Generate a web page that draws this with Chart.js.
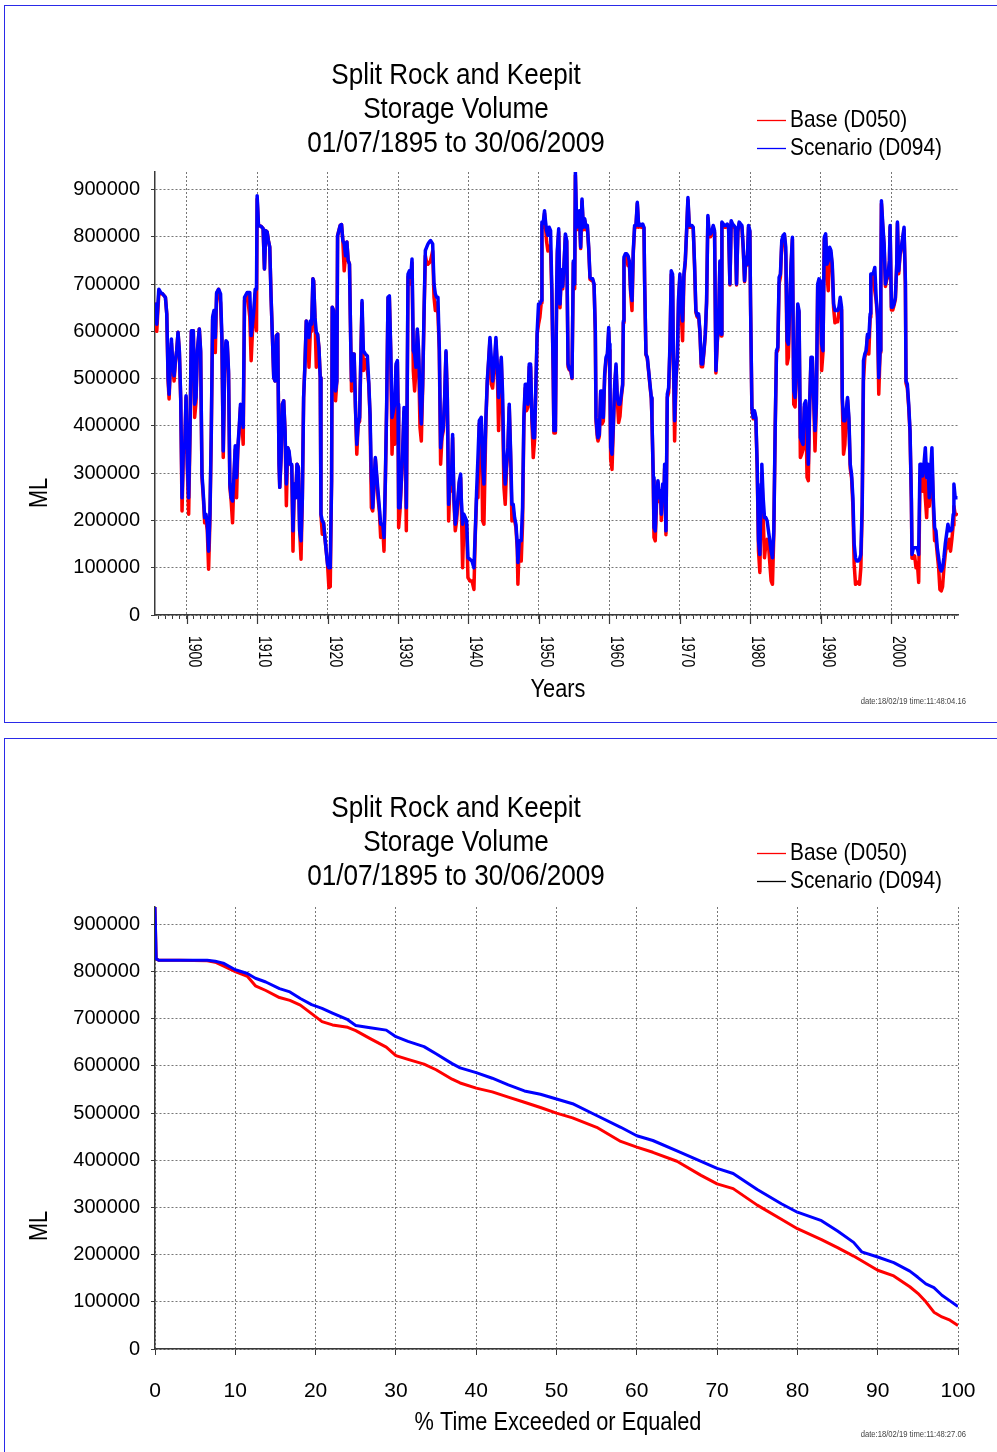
<!DOCTYPE html>
<html>
<head>
<meta charset="utf-8">
<script src="https://cdn.jsdelivr.net/npm/chart.js@4.4.0/dist/chart.umd.min.js"></script>
<style>
html, body { margin: 0; padding: 0; background: #fff; }
body { width: 997px; height: 1452px; position: relative; overflow: hidden; }
.panel { position: absolute; left: 4px; width: 1010px; border: 1.5px solid #2a2ae8; box-sizing: border-box; }
#p1 { top: 5px; height: 718px; }
#p2 { top: 738px; height: 740px; }
canvas { position: absolute; left: 0; }
#c1 { top: 0; }
#c2 { top: 733px; }
</style>
</head>
<body>
<div class="panel" id="p1"></div>
<div class="panel" id="p2"></div>
<canvas id="c1" width="997" height="733"></canvas>
<canvas id="c2" width="997" height="719"></canvas>
<script>
// === TEXT ===
const titleLines = ['Split Rock and Keepit', 'Storage Volume', '01/07/1895 to 30/06/2009'];
const seriesNames = ['Base (D050)', 'Scenario (D094)'];
const yAxisTitle = 'ML';
const timeAxisTitle = 'Years';
const pctAxisTitle = '% Time Exceeded or Equaled';
const stampTop = 'date:18/02/19 time:11:48:04.16';
const stampBottom = 'date:18/02/19 time:11:48:27.06';

// === TICKS ===
const yTickValues = [0, 100000, 200000, 300000, 400000, 500000, 600000, 700000, 800000, 900000];
const yTickLabels = ['0', '100000', '200000', '300000', '400000', '500000', '600000', '700000', '800000', '900000'];
const decadeTicks = [1900, 1910, 1920, 1930, 1940, 1950, 1960, 1970, 1980, 1990, 2000];
const decadeLabels = ['1900', '1910', '1920', '1930', '1940', '1950', '1960', '1970', '1980', '1990', '2000'];
const pctTicks = [0, 10, 20, 30, 40, 50, 60, 70, 80, 90, 100];
const pctLabels = ['0', '10', '20', '30', '40', '50', '60', '70', '80', '90', '100'];

// === TIME SERIES (ML) ===
const years = [
  1895.57, 1895.75, 1896.04, 1896.32, 1896.6, 1896.98, 1897.17, 1897.36, 1897.5, 1897.64, 1897.83, 1898.02, 1898.21, 1898.4, 1898.58, 1898.77, 1898.96,
  1899.15, 1899.34, 1899.53, 1899.72, 1899.91, 1900.09, 1900.28, 1900.47, 1900.66, 1900.94, 1901.13, 1901.32, 1901.51, 1901.79, 1901.98,
  1902.17, 1902.36, 1902.55, 1902.74, 1902.92, 1903.11, 1903.3, 1903.49, 1903.68, 1903.87, 1904.06, 1904.25, 1904.53, 1904.81,
  1905.0, 1905.19, 1905.38, 1905.57, 1905.75, 1905.94, 1906.13, 1906.32, 1906.51, 1906.7, 1906.89, 1907.08, 1907.26, 1907.45, 1907.64, 1907.83,
  1908.02, 1908.21, 1908.58, 1908.96, 1909.15, 1909.34, 1909.53, 1909.72, 1909.91, 1910.0, 1910.19, 1910.57, 1910.85, 1911.04, 1911.23, 1911.42,
  1911.6, 1911.79, 1911.98, 1912.17, 1912.36, 1912.55, 1912.74, 1912.92, 1913.11, 1913.21, 1913.4, 1913.58, 1913.77, 1913.96, 1914.15, 1914.34,
  1914.53, 1914.72, 1914.91, 1915.09, 1915.28, 1915.47, 1915.66, 1915.85, 1916.04, 1916.23, 1916.42, 1916.6, 1916.79, 1916.98, 1917.17, 1917.36,
  1917.55, 1917.74, 1917.92, 1918.02, 1918.21, 1918.4, 1918.58, 1918.77, 1918.96, 1919.06, 1919.25, 1919.43, 1919.62, 1919.81, 1920.0, 1920.19,
  1920.38, 1920.57, 1920.66, 1920.85, 1920.94, 1921.13, 1921.32, 1921.42, 1921.6, 1921.79, 1921.98, 1922.17, 1922.36, 1922.55, 1922.74, 1922.92,
  1923.11, 1923.3, 1923.4, 1923.58, 1923.77, 1923.96, 1924.15, 1924.34, 1924.55, 1924.7,
  1924.89, 1925.08, 1925.37, 1925.65, 1925.84, 1926.03, 1926.22, 1926.41, 1926.78, 1926.97, 1927.16, 1927.35, 1927.54, 1927.83, 1928.01, 1928.2,
  1928.39, 1928.58, 1928.77, 1928.96, 1929.15, 1929.34, 1929.53, 1929.72, 1929.91, 1930.0, 1930.09, 1930.28, 1930.47, 1930.66, 1930.85, 1931.04,
  1931.18, 1931.42, 1931.61, 1931.8, 1931.99, 1932.17, 1932.36, 1932.55, 1932.74, 1932.93, 1933.12, 1933.31, 1933.5, 1933.69, 1933.88, 1934.07,
  1934.26, 1934.44, 1934.63, 1934.92, 1935.11, 1935.3, 1935.48, 1935.67, 1935.86, 1936.05, 1936.24, 1936.43, 1936.62, 1936.81, 1937.0, 1937.19,
  1937.38, 1937.57, 1937.75, 1937.94, 1938.13, 1938.32, 1938.51, 1938.7, 1938.89, 1938.98, 1939.17, 1939.36, 1939.55, 1939.74, 1939.93, 1940.21,
  1940.5, 1940.78, 1940.97, 1941.16, 1941.35, 1941.54, 1941.82, 1942.01, 1942.2, 1942.48, 1942.67, 1942.86, 1943.05, 1943.24, 1943.43, 1943.71,
  1943.9, 1944.09, 1944.28, 1944.47, 1944.66, 1944.85, 1945.04, 1945.22, 1945.41, 1945.6, 1945.79, 1945.98, 1946.17, 1946.36, 1946.55, 1946.74,
  1946.93, 1947.02, 1947.21, 1947.49, 1947.68, 1947.87, 1948.06, 1948.25, 1948.44, 1948.63, 1948.82, 1949.01, 1949.2, 1949.39, 1949.57, 1949.76,
  1949.95, 1950.14, 1950.33, 1950.43, 1950.61, 1950.8, 1950.9, 1951.09, 1951.28, 1951.47, 1951.66, 1951.84, 1952.03, 1952.13,
  1952.34, 1952.53, 1952.62, 1952.81, 1953.0, 1953.19, 1953.38, 1953.57, 1953.76, 1953.95, 1954.14, 1954.33, 1954.52, 1954.7, 1954.89, 1955.08,
  1955.18, 1955.37, 1955.56, 1955.74, 1955.93, 1956.12, 1956.31, 1956.5, 1956.69, 1956.88, 1957.07, 1957.26, 1957.45, 1957.64, 1957.83, 1958.01,
  1958.11, 1958.3, 1958.39, 1958.58, 1958.77, 1958.96, 1959.15, 1959.34, 1959.53, 1959.72, 1959.91, 1960.0, 1960.09, 1960.19, 1960.38, 1960.57,
  1960.76, 1960.95, 1961.13, 1961.32, 1961.51, 1961.7, 1961.89, 1961.99, 1962.08, 1962.27, 1962.46, 1962.65, 1962.84, 1963.03, 1963.22, 1963.4,
  1963.59, 1963.78, 1963.97, 1964.16, 1964.35, 1964.54, 1964.73, 1964.92, 1965.01, 1965.2, 1965.39, 1965.58, 1965.77, 1965.96, 1966.05, 1966.24,
  1966.34, 1966.52, 1966.71, 1966.9, 1967.09, 1967.28, 1967.38, 1967.57, 1967.75, 1967.85, 1968.04, 1968.23, 1968.42, 1968.61, 1968.79, 1968.98,
  1969.08, 1969.27, 1969.46, 1969.65, 1969.83, 1970.02, 1970.21, 1970.4, 1970.59, 1970.78, 1970.97, 1971.16, 1971.35, 1971.54, 1971.73, 1971.91,
  1972.1, 1972.29, 1972.48, 1972.67, 1972.86, 1973.05, 1973.24, 1973.43, 1973.62, 1973.81, 1973.99, 1974.18, 1974.37, 1974.56, 1974.75, 1974.94,
  1975.13, 1975.32, 1975.51, 1975.7, 1975.89, 1975.98, 1976.17, 1976.36, 1976.55, 1976.74, 1976.93, 1977.12, 1977.3, 1977.49, 1977.68, 1977.87,
  1978.06, 1978.25, 1978.44, 1978.63, 1978.82, 1979.01, 1979.2, 1979.39, 1979.57, 1979.76, 1979.95, 1980.05, 1980.24, 1980.43, 1980.61, 1980.8,
  1980.99, 1981.18, 1981.37, 1981.56, 1981.65,
  1981.84, 1982.03, 1982.22, 1982.41, 1982.59, 1982.78, 1982.97, 1983.16, 1983.35, 1983.54, 1983.73, 1983.92, 1984.1, 1984.29, 1984.48, 1984.67,
  1984.86, 1985.05, 1985.24, 1985.42, 1985.61, 1985.8, 1985.99, 1986.18, 1986.37, 1986.56, 1986.75, 1986.93, 1987.12, 1987.31, 1987.5, 1987.69,
  1987.88, 1988.07, 1988.25, 1988.44, 1988.63, 1988.82, 1989.01, 1989.2, 1989.39, 1989.58, 1989.76, 1989.95, 1990.14, 1990.33, 1990.52, 1990.71,
  1990.9, 1991.08, 1991.27, 1991.46, 1991.65, 1991.84, 1992.03, 1992.22, 1992.41, 1992.59, 1992.78, 1992.97, 1993.07, 1993.25, 1993.44, 1993.63,
  1993.82, 1994.01, 1994.2, 1994.39, 1994.58, 1994.76, 1994.95, 1995.14, 1995.33, 1995.52, 1995.71, 1995.9, 1996.08, 1996.27, 1996.46, 1996.65,
  1996.84, 1997.03, 1997.12, 1997.31, 1997.5, 1997.69, 1997.88, 1998.07, 1998.25, 1998.44, 1998.54, 1998.63, 1998.82, 1999.01, 1999.2, 1999.39,
  1999.58, 1999.76, 1999.86, 2000.05, 2000.24, 2000.42, 2000.61, 2000.8, 2000.9, 2001.08, 2001.27, 2001.46, 2001.65, 2001.84, 2002.03, 2002.12,
  2002.31, 2002.5, 2002.69, 2002.88, 2002.97, 2003.16, 2003.35, 2003.54, 2003.73, 2003.92, 2004.1, 2004.29, 2004.48, 2004.67, 2004.86, 2005.05,
  2005.24, 2005.42, 2005.61, 2005.8, 2005.99, 2006.18, 2006.37, 2006.56, 2006.75, 2006.93, 2007.12, 2007.31, 2007.5, 2007.69, 2007.88, 2008.07,
  2008.25, 2008.44, 2008.63, 2008.82, 2008.92, 2009.1, 2009.29, 2009.43
];

const scenario = [
  661000, 615000, 689000, 682000, 679000, 672000, 637000, 502000, 467000, 517000, 584000, 531000, 506000, 538000, 559000, 598000, 559000,
  460000, 248000, 354000, 354000, 464000, 319000, 248000, 390000, 601000, 601000, 446000, 460000, 559000, 605000, 559000,
  298000, 255000, 206000, 213000, 192000, 135000, 213000, 390000, 630000, 644000, 587000, 682000, 689000, 679000,
  587000, 347000, 517000, 580000, 577000, 517000, 277000, 248000, 241000, 291000, 358000, 291000, 354000, 397000, 446000, 418000,
  397000, 672000, 682000, 682000, 591000, 615000, 644000, 689000, 689000, 887000, 824000, 822000, 817000, 732000, 813000, 810000,
  792000, 778000, 672000, 587000, 502000, 495000, 591000, 594000, 319000, 270000, 333000, 446000, 453000, 390000, 277000, 354000,
  347000, 319000, 319000, 178000, 277000, 248000, 319000, 312000, 178000, 157000, 248000, 460000, 531000, 622000, 601000, 587000,
  622000, 615000, 711000, 707000, 630000, 598000, 594000, 566000, 502000, 213000, 199000, 195000, 164000, 135000, 107000, 100000,
  100000, 284000, 651000, 644000, 587000, 474000, 495000, 802000, 813000, 824000, 826000, 792000, 785000, 760000, 789000, 750000,
  742000, 566000, 495000, 552000, 552000, 439000, 361000, 404000, 418000, 531000,
  665000, 559000, 552000, 548000, 495000, 425000, 291000, 227000, 333000, 298000, 262000, 227000, 192000, 192000, 164000, 284000,
  446000, 672000, 675000, 566000, 418000, 432000, 446000, 531000, 538000, 446000, 227000, 227000, 284000, 347000, 439000, 390000,
  227000, 721000, 728000, 714000, 753000, 559000, 552000, 524000, 605000, 559000, 460000, 404000, 488000, 637000, 771000, 778000,
  785000, 789000, 792000, 785000, 700000, 679000, 672000, 672000, 566000, 354000, 382000, 397000, 460000, 559000, 460000, 234000,
  284000, 277000, 382000, 248000, 192000, 213000, 248000, 284000, 298000, 248000, 192000, 213000, 206000, 199000, 121000, 118000,
  114000, 100000, 178000, 262000, 333000, 411000, 418000, 319000, 277000, 418000, 495000, 538000, 587000, 545000, 495000, 538000,
  587000, 531000, 460000, 495000, 545000, 467000, 319000, 277000, 319000, 354000, 446000, 347000, 234000, 234000, 206000, 192000,
  150000, 111000, 157000, 157000, 227000, 418000, 488000, 488000, 446000, 531000, 531000, 418000, 375000, 375000, 488000, 601000,
  658000, 658000, 665000, 831000, 828000, 855000, 838000, 813000, 803000, 820000, 813000, 686000, 517000, 390000,
  390000, 700000, 771000, 817000, 658000, 730000, 695000, 742000, 806000, 792000, 531000, 520000, 520000, 502000, 749000, 700000,
  937000, 820000, 824000, 855000, 778000, 880000, 820000, 838000, 820000, 824000, 778000, 714000, 711000, 711000, 700000, 601000,
  418000, 382000, 375000, 382000, 474000, 474000, 418000, 510000, 545000, 552000, 608000, 573000, 495000, 354000, 340000, 404000,
  488000, 531000, 460000, 446000, 446000, 467000, 488000, 622000, 757000, 764000, 764000, 760000, 749000, 686000, 665000, 771000,
  824000, 824000, 873000, 824000, 827000, 824000, 827000, 820000, 707000, 552000, 545000, 517000, 488000, 460000, 418000, 291000,
  185000, 178000, 248000, 284000, 248000, 262000, 213000, 277000, 248000, 319000, 178000, 467000, 481000, 573000, 728000, 721000,
  559000, 411000, 502000, 545000, 672000, 721000, 651000, 622000, 721000, 749000, 813000, 883000, 824000, 824000, 824000, 820000,
  742000, 644000, 633000, 637000, 601000, 531000, 531000, 559000, 594000, 665000, 845000, 806000, 806000, 813000, 824000, 813000,
  517000, 580000, 622000, 749000, 594000, 831000, 827000, 824000, 824000, 827000, 820000, 700000, 834000, 827000, 824000, 820000,
  700000, 813000, 831000, 827000, 824000, 778000, 707000, 757000, 742000, 824000, 813000, 658000, 439000, 418000, 432000, 418000,
  319000, 157000, 128000, 277000, 319000,
  248000, 206000, 206000, 199000, 178000, 157000, 135000, 121000, 178000, 390000, 559000, 566000, 714000, 721000, 792000, 803000,
  806000, 778000, 580000, 573000, 658000, 742000, 799000, 474000, 460000, 510000, 658000, 644000, 375000, 368000, 361000, 446000,
  453000, 404000, 319000, 446000, 545000, 545000, 460000, 390000, 446000, 700000, 711000, 707000, 573000, 559000, 799000, 806000,
  742000, 749000, 778000, 771000, 742000, 658000, 644000, 644000, 644000, 651000, 672000, 651000, 460000, 411000, 411000, 432000,
  460000, 418000, 319000, 298000, 248000, 150000, 121000, 114000, 114000, 118000, 128000, 234000, 538000, 552000, 559000, 594000,
  587000, 637000, 721000, 721000, 724000, 735000, 672000, 637000, 502000, 559000, 686000, 876000, 827000, 785000, 700000, 714000,
  721000, 749000, 824000, 651000, 651000, 658000, 672000, 742000, 831000, 728000, 764000, 778000, 799000, 820000, 707000, 495000,
  488000, 446000, 390000, 248000, 128000, 142000, 142000, 142000, 142000, 128000, 319000, 319000, 294000, 319000, 354000, 291000,
  319000, 248000, 305000, 354000, 248000, 185000, 178000, 142000, 121000, 100000, 93000, 100000, 121000, 150000, 171000, 192000,
  178000, 178000, 181000, 213000, 277000, 248000, 248000, 248000
];

const base = [
  661000, 600000, 680000, 680000, 679000, 672000, 637000, 495000, 457000, 510000, 575000, 525000, 495000, 535000, 559000, 598000, 555000,
  455000, 220000, 340000, 354000, 460000, 310000, 213000, 380000, 600000, 601000, 418000, 450000, 555000, 605000, 555000,
  290000, 248000, 195000, 200000, 180000, 97000, 200000, 380000, 625000, 640000, 555000, 680000, 689000, 660000,
  580000, 333000, 510000, 575000, 575000, 510000, 270000, 240000, 195000, 285000, 350000, 248000, 350000, 390000, 440000, 410000,
  361000, 665000, 680000, 630000, 538000, 600000, 630000, 680000, 601000, 880000, 824000, 822000, 817000, 732000, 813000, 810000,
  792000, 778000, 672000, 587000, 502000, 495000, 591000, 594000, 319000, 270000, 333000, 446000, 453000, 390000, 231000, 354000,
  340000, 319000, 315000, 135000, 277000, 248000, 319000, 312000, 178000, 118000, 248000, 460000, 531000, 622000, 601000, 524000,
  600000, 600000, 711000, 707000, 630000, 524000, 594000, 566000, 502000, 213000, 171000, 195000, 164000, 135000, 107000, 58000,
  60000, 284000, 651000, 644000, 587000, 453000, 495000, 802000, 813000, 824000, 826000, 792000, 728000, 760000, 789000, 750000,
  742000, 566000, 474000, 552000, 552000, 439000, 340000, 404000, 410000, 525000,
  660000, 517000, 540000, 517000, 490000, 420000, 227000, 220000, 330000, 290000, 248000, 220000, 164000, 185000, 135000, 280000,
  440000, 670000, 672000, 560000, 340000, 425000, 361000, 525000, 535000, 440000, 185000, 220000, 280000, 340000, 430000, 350000,
  178000, 715000, 720000, 700000, 745000, 517000, 474000, 520000, 600000, 540000, 397000, 368000, 480000, 630000, 760000, 745000,
  742000, 745000, 750000, 770000, 672000, 644000, 660000, 637000, 560000, 319000, 375000, 390000, 455000, 555000, 455000, 199000,
  280000, 262000, 375000, 240000, 178000, 200000, 240000, 280000, 290000, 240000, 100000, 200000, 200000, 190000, 79000, 72000,
  72000, 54000, 170000, 248000, 248000, 405000, 410000, 199000, 192000, 410000, 490000, 535000, 580000, 488000, 480000, 530000,
  580000, 520000, 390000, 480000, 540000, 432000, 270000, 234000, 310000, 350000, 440000, 340000, 199000, 220000, 200000, 185000,
  140000, 65000, 150000, 114000, 192000, 410000, 480000, 432000, 440000, 525000, 525000, 410000, 333000, 370000, 480000, 595000,
  615000, 630000, 660000, 825000, 820000, 850000, 830000, 790000, 770000, 780000, 770000, 680000, 510000, 385000,
  385000, 690000, 765000, 810000, 650000, 725000, 690000, 740000, 800000, 790000, 525000, 518000, 518000, 500000, 745000, 690000,
  930000, 815000, 820000, 850000, 775000, 875000, 815000, 835000, 815000, 820000, 775000, 710000, 708000, 708000, 698000, 598000,
  410000, 375000, 368000, 378000, 470000, 404000, 410000, 505000, 540000, 545000, 600000, 560000, 480000, 330000, 308000, 395000,
  480000, 525000, 455000, 407000, 420000, 460000, 485000, 618000, 750000, 760000, 755000, 739000, 745000, 680000, 644000, 765000,
  820000, 820000, 870000, 820000, 824000, 820000, 824000, 818000, 705000, 550000, 543000, 515000, 485000, 458000, 415000, 285000,
  164000, 157000, 240000, 280000, 240000, 255000, 200000, 270000, 240000, 310000, 170000, 460000, 470000, 565000, 720000, 715000,
  550000, 368000, 495000, 540000, 665000, 715000, 637000, 580000, 715000, 745000, 810000, 878000, 820000, 820000, 820000, 818000,
  738000, 640000, 630000, 633000, 598000, 525000, 525000, 555000, 590000, 660000, 840000, 800000, 800000, 808000, 820000, 808000,
  512000, 575000, 618000, 745000, 590000, 828000, 824000, 820000, 820000, 824000, 818000, 698000, 830000, 824000, 820000, 818000,
  698000, 810000, 828000, 824000, 820000, 775000, 705000, 755000, 740000, 820000, 810000, 655000, 435000, 415000, 428000, 415000,
  310000, 135000, 90000, 260000, 300000,
  210000, 121000, 150000, 160000, 150000, 110000, 72000, 65000, 170000, 385000, 555000, 560000, 700000, 715000, 785000, 800000,
  803000, 760000, 531000, 545000, 650000, 738000, 795000, 446000, 440000, 505000, 650000, 640000, 333000, 340000, 350000, 440000,
  448000, 291000, 284000, 440000, 540000, 540000, 455000, 347000, 440000, 695000, 705000, 700000, 517000, 555000, 795000, 800000,
  720000, 686000, 770000, 765000, 735000, 650000, 618000, 620000, 620000, 640000, 660000, 645000, 455000, 340000, 360000, 425000,
  455000, 410000, 310000, 290000, 230000, 107000, 65000, 68000, 70000, 65000, 100000, 225000, 495000, 545000, 555000, 590000,
  552000, 630000, 715000, 715000, 718000, 686000, 665000, 630000, 467000, 555000, 680000, 870000, 820000, 780000, 695000, 710000,
  715000, 745000, 820000, 645000, 645000, 655000, 668000, 738000, 828000, 722000, 760000, 775000, 795000, 815000, 700000, 490000,
  480000, 440000, 385000, 240000, 120000, 120000, 125000, 100000, 110000, 69000, 290000, 300000, 262000, 300000, 248000, 206000,
  290000, 230000, 280000, 330000, 230000, 157000, 160000, 128000, 100000, 54000, 51000, 60000, 100000, 128000, 150000, 142000,
  160000, 135000, 160000, 190000, 230000, 213000, 213000, 210000
];

// === DURATION CURVE (% time exceeded, ML) ===
const pctExceeded = [
  0, 0.15, 0.5, 3, 6.5, 7.5, 8.5, 10, 11.5, 12.5, 13.8, 15.5, 16.8, 18.1, 19.5, 20.8, 22.1, 24, 25, 26.8, 28.8, 30,
  31.5, 33.5, 35, 37, 38, 40, 42, 44, 46, 48, 50, 52, 55, 58, 60, 62, 65, 68, 70, 72, 75, 78, 80, 83, 85, 87, 88,
  90, 92, 94, 95, 96, 97, 98, 99, 100
];
const scenarioExceed = [
  937000, 827000, 824000, 824000, 824000, 822000, 818000, 804000, 796000, 786000, 778000, 764000, 757000, 743000, 730000, 722000,
  712000, 698000, 686000, 681000, 676000, 662000, 652000, 641000, 626000, 605000, 596000, 586000, 574000, 560000, 547000, 540000,
  530000, 520000, 495000, 470000, 452000, 442000, 420000, 398000, 383000, 372000, 338000, 308000, 290000, 272000, 250000, 226000,
  206000, 195000, 183000, 165000, 152000, 138000, 130000, 114000, 102000, 90000
];
const baseExceed = [
  937000, 827000, 824000, 824000, 823000, 820000, 812000, 800000, 790000, 770000, 760000, 745000, 739000, 729000, 711000, 694000,
  687000, 682000, 675000, 658000, 640000, 622000, 614000, 604000, 592000, 572000, 564000, 553000, 545000, 534000, 523000, 512000,
  500000, 490000, 470000, 440000, 428000, 417000, 398000, 368000, 350000, 340000, 305000, 275000, 255000, 232000, 215000, 197000,
  187000, 167000, 155000, 132000, 118000, 100000, 78000, 68000, 61000, 50000
];

// === STYLE ===
const FONT = '"Liberation Sans", Arial, sans-serif';
const RED = '#ff0000';
const BLUE = '#0000ff';
const GRID = 'rgba(95,95,95,0.85)';
const AXIS = '#3a3a3a';

// narrow-looking text: squeeze a regular face along its baseline
function narrowText(ctx, text, x, y, size, squeeze, align, angle) {
    ctx.save();
    ctx.translate(x, y);
    if (angle) ctx.rotate(angle);
    ctx.scale(squeeze, 1);
    ctx.font = size + 'px ' + FONT;
    ctx.textAlign = align;
    ctx.textBaseline = 'middle';
    ctx.fillText(text, 0, 0);
    ctx.restore();
}

// === DECORATION PLUGIN (title, legend, axis titles, stamp) ===
function decor(opts) {
    return {
        id: opts.id,
        afterDraw(chart) {
            const ctx = chart.ctx;
            ctx.save();
            ctx.fillStyle = '#000';

            // Title
            titleLines.forEach((t, i) => narrowText(ctx, t, 456, 76 + i * 34, 30, 0.87, 'center'));

            // Legend
            seriesNames.forEach((name, i) => {
                const y = 120 + i * 28;
                ctx.strokeStyle = opts.legendColors[i];
                ctx.lineWidth = 1.3;
                ctx.beginPath();
                ctx.moveTo(757, y + 0.5);
                ctx.lineTo(786, y + 0.5);
                ctx.stroke();
                narrowText(ctx, name, 790, y, 24, 0.87, 'left');
            });

            // Axis titles
            narrowText(ctx, yAxisTitle, 40, 493, 25, 0.87, 'center', -Math.PI / 2);
            narrowText(ctx, opts.xTitle, 558, 690, 25, 0.87, 'center');

            // Date stamp
            ctx.fillStyle = '#444';
            narrowText(ctx, opts.stamp, 966, 702, 9, 0.85, 'right');
            ctx.fillStyle = '#000';

            // Rotated decade labels + long decade ticks (time chart only)
            if (opts.decades) {
                const xs = chart.scales.x;
                const bottom = chart.chartArea.bottom;
                ctx.strokeStyle = AXIS;
                ctx.lineWidth = 1.2;
                decadeTicks.forEach((yr, i) => {
                    const px = Math.round(xs.getPixelForValue(yr)) + 0.5;
                    ctx.beginPath();
                    ctx.moveTo(px, bottom);
                    ctx.lineTo(px, bottom + 9);
                    ctx.stroke();
                    narrowText(ctx, decadeLabels[i], px + 6, bottom + 21, 18, 0.78, 'left', Math.PI / 2);
                });
            }
            ctx.restore();
        }
    };
}

function yScale() {
    return {
        min: 0, max: 937000,
        afterBuildTicks: s => { s.ticks = yTickValues.map(v => ({ value: v })); },
        afterFit: s => { s.width = 155; },
        ticks: { callback: (v, i) => yTickLabels[i], font: { family: FONT, size: 20 }, color: '#000', padding: 11 },
        grid: { color: GRID, lineWidth: 1, tickColor: AXIS, tickLength: 4 },
        border: { color: AXIS, width: 1.5, dash: [2, 2] }
    };
}

// === TIME SERIES CHART ===
const yearTicks = [];
for (let y = 1896; y <= 2009; y++) yearTicks.push(y);

new Chart(document.getElementById('c1'), {
    type: 'line',
    data: {
        datasets: [
            { label: seriesNames[1], data: years.map((x, i) => ({ x, y: scenario[i] })), borderColor: BLUE,
              borderWidth: 3.5, pointRadius: 0, borderJoinStyle: 'round', order: 0 },
            { label: seriesNames[0], data: years.map((x, i) => ({ x, y: base[i] })), borderColor: RED,
              borderWidth: 3.5, pointRadius: 0, borderJoinStyle: 'round', order: 1 }
        ]
    },
    options: {
        responsive: false, animation: false, events: [],
        layout: { padding: { top: 172, right: 39, left: 0, bottom: 0 } },
        plugins: { legend: { display: false }, tooltip: { enabled: false } },
        scales: {
            x: {
                type: 'linear', min: 1895.5, max: 2009.5,
                afterBuildTicks: s => { s.ticks = yearTicks.map(v => ({ value: v })); },
                afterFit: s => { s.height = 118; s.paddingLeft = 0; s.paddingRight = 0; },
                ticks: { display: false },
                grid: { color: c => (c.tick && c.tick.value % 10 === 0) ? GRID : 'rgba(0,0,0,0)',
                        lineWidth: 1, tickColor: AXIS, tickLength: 4 },
                border: { color: AXIS, width: 1.5, dash: [2, 2] }
            },
            y: yScale()
        }
    },
    plugins: [decor({ id: 'decorTime', legendColors: [RED, BLUE], xTitle: timeAxisTitle, stamp: stampTop, decades: true })]
});

// === DURATION CURVE CHART ===
new Chart(document.getElementById('c2'), {
    type: 'line',
    data: {
        datasets: [
            { label: seriesNames[1], data: pctExceeded.map((x, i) => ({ x, y: scenarioExceed[i] })), borderColor: BLUE,
              borderWidth: 3, pointRadius: 0, borderJoinStyle: 'round', order: 0 },
            { label: seriesNames[0], data: pctExceeded.map((x, i) => ({ x, y: baseExceed[i] })), borderColor: RED,
              borderWidth: 3, pointRadius: 0, borderJoinStyle: 'round', order: 1 }
        ]
    },
    options: {
        responsive: false, animation: false, events: [],
        layout: { padding: { top: 174, right: 39, left: 0, bottom: 0 } },
        plugins: { legend: { display: false }, tooltip: { enabled: false } },
        scales: {
            x: {
                type: 'linear', min: 0, max: 100,
                afterBuildTicks: s => { s.ticks = pctTicks.map(v => ({ value: v })); },
                afterFit: s => { s.height = 103; s.paddingLeft = 0; s.paddingRight = 0; },
                ticks: { callback: (v, i) => pctLabels[i], font: { family: FONT, size: 21 }, color: '#000',
                         padding: 24, maxRotation: 0, autoSkip: false },
                grid: { color: GRID, lineWidth: 1, tickColor: AXIS, tickLength: 6 },
                border: { color: AXIS, width: 1.5, dash: [2, 2] }
            },
            y: yScale()
        }
    },
    plugins: [decor({ id: 'decorPct', legendColors: [RED, '#000'], xTitle: pctAxisTitle, stamp: stampBottom, decades: false })]
});
</script>
</body>
</html>
